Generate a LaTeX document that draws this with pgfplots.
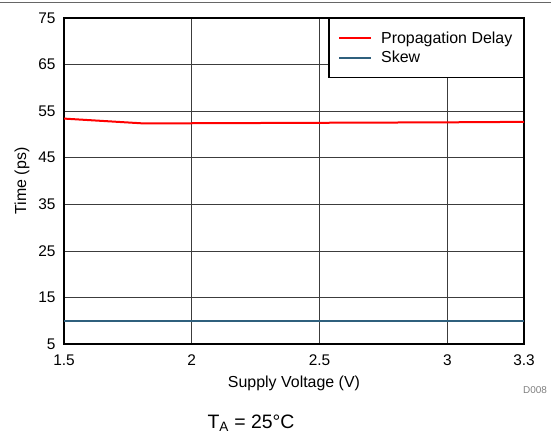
\documentclass[border=0pt]{standalone}
\usepackage{fontspec}
\setmainfont{Liberation Sans}
\usepackage{pgfplots}
\pgfplotsset{compat=1.18}
\definecolor{skewblue}{RGB}{47,96,125}
\definecolor{gridgray}{RGB}{60,60,60}
\begin{document}
\begin{tikzpicture}[font=\fontsize{15.5}{18}\selectfont]
\path[use as bounding box] (0bp,0bp) rectangle (551bp,439bp);
\draw[gray!80!black, line width=0.8bp] (0bp,437bp) -- (551bp,437bp);
\begin{axis}[
    at={(64bp,95bp)}, anchor=south west,
    width=460bp, height=326bp, scale only axis,
    xmin=1.5, xmax=3.3, ymin=5, ymax=75,
    xtick={1.5,2,2.5,3,3.3},
    xticklabels={1.5,2,2.5,3,3.3},
    ytick={5,15,25,35,45,55,65,75},
    /pgf/number format/assume math mode=true,
    tick label style={font=\fontsize{15.5}{18}\selectfont},
    label style={font=\fontsize{16}{19}\selectfont},
    tick style={draw=none},
    grid=major,
    major grid style={gridgray, line width=0.6bp},
    axis line style={line width=1.6bp, black},
    xlabel={Supply Voltage (V)},
    ylabel={Time (ps)},
    xlabel style={yshift=-4bp},
    ylabel style={yshift=2bp},
    xticklabel style={yshift=-7bp},
    yticklabel style={xshift=-5bp},
    legend style={at={(1,1)}, anchor=north east, line width=1.4bp,
        font=\fontsize{16}{18}\selectfont, inner xsep=9bp, inner ysep=11bp,
        row sep=2.5bp, column sep=7bp, cells={anchor=west}},
    legend cell align=left,
    legend image post style={line width=2bp},
    legend image code/.code={\draw[#1] (0bp,0bp) -- (32bp,0bp);},
]
\addplot[color=red, line width=2bp] coordinates {
    (1.5,53.4) (1.8,52.4) (2.0,52.4) (2.5,52.5) (3.0,52.6) (3.3,52.7)
};
\addlegendentry{Propagation Delay\hspace{5bp}}
\addplot[color=skewblue, line width=2bp] coordinates {
    (1.5,10.0) (2.0,10.0) (2.5,10.0) (3.0,10.0) (3.3,10.0)
};
\addlegendentry{Skew}
\end{axis}
\node[gray, font=\fontsize{10}{12}\selectfont] at (535bp,49bp) {D008};
\node[font=\fontsize{19.5}{22}\selectfont] at (251bp,16bp) {T\textsubscript{A} = 25°C};
\end{tikzpicture}
\end{document}
